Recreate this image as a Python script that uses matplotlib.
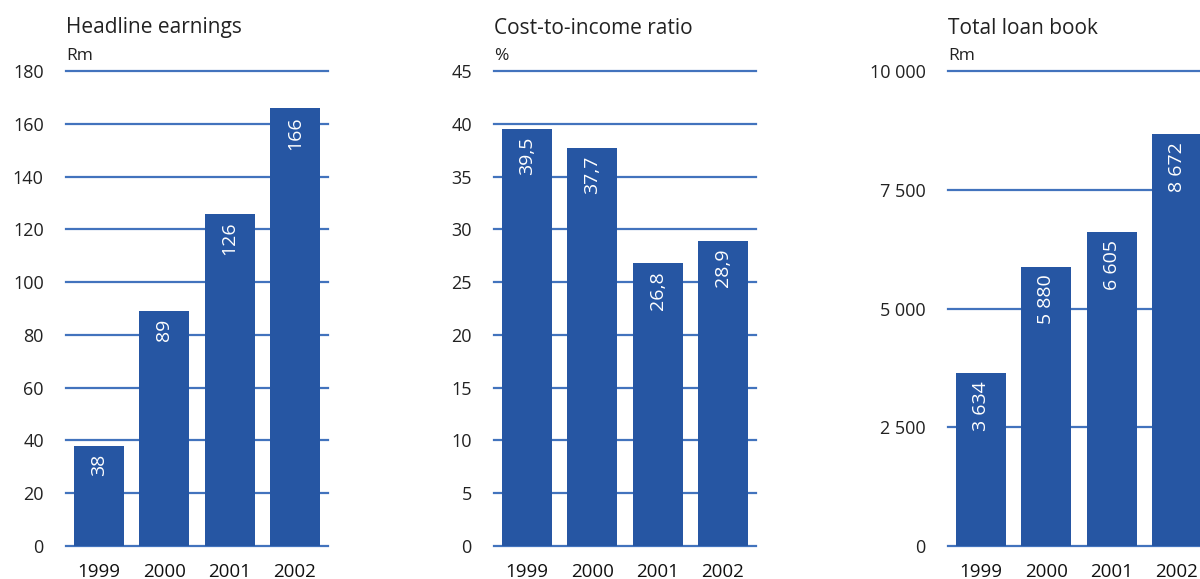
import matplotlib
matplotlib.use("Agg")
import matplotlib.pyplot as plt

plt.rcParams['font.family'] = ['Open Sans', 'DejaVu Sans']

years = ["1999", "2000", "2001", "2002"]
earnings = [38, 89, 126, 166]
earnings_labels = ["38", "89", "126", "166"]
cost_income = [39.5, 37.7, 26.8, 28.9]
cost_income_labels = ["39,5", "37,7", "26,8", "28,9"]
loan_book = [3634, 5880, 6605, 8672]
loan_book_labels = ["3 634", "5 880", "6 605", "8 672"]

titles = ["Headline earnings", "Cost-to-income ratio", "Total loan book"]
units = ["Rm", "%", "Rm"]
yticks_list = [
    [0, 20, 40, 60, 80, 100, 120, 140, 160, 180],
    [0, 5, 10, 15, 20, 25, 30, 35, 40, 45],
    [0, 2500, 5000, 7500, 10000],
]
ytick_labels_list = [
    ["0", "20", "40", "60", "80", "100", "120", "140", "160", "180"],
    ["0", "5", "10", "15", "20", "25", "30", "35", "40", "45"],
    ["0", "2 500", "5 000", "7 500", "10 000"],
]
values_list = [earnings, cost_income, loan_book]
labels_list = [earnings_labels, cost_income_labels, loan_book_labels]

W, H = 1200, 579
fig = plt.figure(figsize=(W / 100, H / 100), dpi=100)

bar_color = "#2656a3"
grid_color = "#4273bd"
text_color = "#222222"

lefts = [66, 494, 948]
ax_w = 262
ax_top, ax_bot = 71, 546
spacing = 65.3
offset = 33

for i in range(3):
    left = lefts[i]
    ax = fig.add_axes([left / W, 1 - ax_bot / H, ax_w / W, (ax_bot - ax_top) / H])
    x = list(range(len(years)))
    ymax = yticks_list[i][-1]
    ax.set_ylim(0, ymax)
    ax.set_xlim(-offset / spacing, (ax_w - offset) / spacing)
    for t in yticks_list[i]:
        ax.axhline(t, color=grid_color, lw=1.6, zorder=1, clip_on=False)
    ax.bar(x, values_list[i], width=50 / spacing, color=bar_color, zorder=2)
    for xi, v, lab in zip(x, values_list[i], labels_list[i]):
        off_px = 8
        yv = v - off_px / (ax_bot - ax_top) * ymax
        ax.text(xi, yv, lab, rotation=90, ha="center", va="top", color="white",
                fontsize=14, zorder=3)
    ax.set_yticks(yticks_list[i])
    ax.set_yticklabels(ytick_labels_list[i], fontsize=13, color=text_color)
    ax.set_xticks(x)
    ax.set_xticklabels(years, fontsize=13.5, color="#111111")
    ax.tick_params(axis="y", length=0, pad=16)
    ax.tick_params(axis="x", length=0, pad=12)
    for s in ax.spines.values():
        s.set_visible(False)
    fig.text(left / W, 1 - 28 / H, titles[i], ha="left", va="center",
             fontsize=15, color=text_color)
    fig.text(left / W, 1 - 56 / H, units[i], ha="left", va="center",
             fontsize=12.5, color=text_color)

fig.savefig("out.png", dpi=100)
